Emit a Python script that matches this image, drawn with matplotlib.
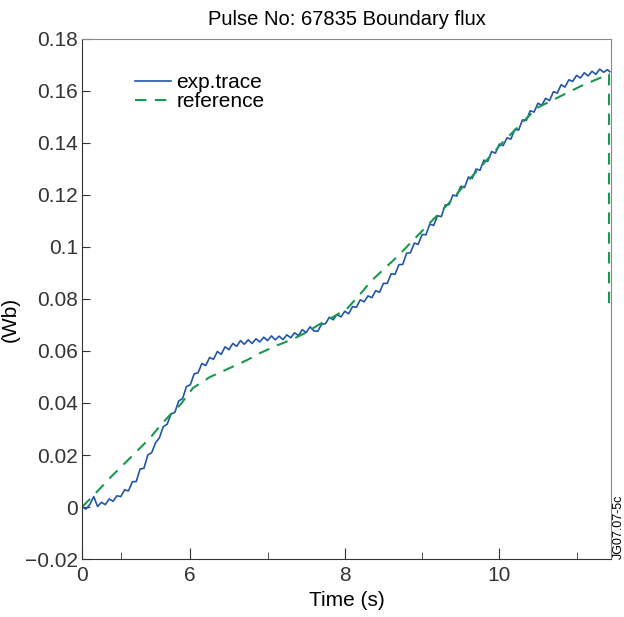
import matplotlib
matplotlib.use("Agg")
import matplotlib.pyplot as plt

plt.rcParams['font.family'] = ['Liberation Sans', 'DejaVu Sans']

exp_t = [4.60, 4.65, 4.70, 4.75, 4.80, 4.85, 4.90, 4.95, 5.00, 5.05,
         5.10, 5.15, 5.20, 5.25, 5.30, 5.35, 5.40, 5.45, 5.50, 5.55,
         5.60, 5.65, 5.70, 5.75, 5.80, 5.85, 5.90, 5.95, 6.00, 6.05,
         6.10, 6.15, 6.20, 6.25, 6.30, 6.35, 6.40, 6.45, 6.50, 6.55,
         6.60, 6.65, 6.70, 6.75, 6.80, 6.85, 6.90, 6.95, 7.00, 7.05,
         7.10, 7.15, 7.20, 7.25, 7.30, 7.35, 7.40, 7.45, 7.50, 7.55,
         7.60, 7.65, 7.70, 7.75, 7.80, 7.85, 7.90, 7.95, 8.00, 8.05,
         8.10, 8.15, 8.20, 8.25, 8.30, 8.35, 8.40, 8.45, 8.50, 8.55,
         8.60, 8.65, 8.70, 8.75, 8.80, 8.85, 8.90, 8.95, 9.00, 9.05,
         9.10, 9.15, 9.20, 9.25, 9.30, 9.35, 9.40, 9.45, 9.50, 9.55,
         9.60, 9.65, 9.70, 9.75, 9.80, 9.85, 9.90, 9.95, 10.00, 10.05,
         10.10, 10.15, 10.20, 10.25, 10.30, 10.35, 10.40, 10.45, 10.50, 10.55,
         10.60, 10.65, 10.70, 10.75, 10.80, 10.85, 10.90, 10.95, 11.00, 11.05,
         11.10, 11.15, 11.20, 11.25, 11.30, 11.35, 11.40, 11.43]
exp_flux = [0.0000, -0.0008, 0.0010, 0.0040, 0.0002, 0.0018, 0.0009, 0.0031, 0.0022, 0.0043,
            0.0040, 0.0066, 0.0062, 0.0097, 0.0098, 0.0146, 0.0149, 0.0200, 0.0209, 0.0247,
            0.0266, 0.0309, 0.0318, 0.0357, 0.0364, 0.0408, 0.0417, 0.0463, 0.0470, 0.0512,
            0.0516, 0.0552, 0.0544, 0.0575, 0.0568, 0.0598, 0.0587, 0.0616, 0.0605, 0.0629,
            0.0618, 0.0640, 0.0626, 0.0643, 0.0629, 0.0647, 0.0635, 0.0653, 0.0640, 0.0658,
            0.0643, 0.0657, 0.0644, 0.0662, 0.0651, 0.0670, 0.0659, 0.0682, 0.0671, 0.0693,
            0.0677, 0.0676, 0.0703, 0.0705, 0.0730, 0.0720, 0.0741, 0.0731, 0.0753, 0.0743,
            0.0771, 0.0768, 0.0797, 0.0789, 0.0812, 0.0805, 0.0832, 0.0826, 0.0860, 0.0860,
            0.0897, 0.0895, 0.0932, 0.0933, 0.0976, 0.0978, 0.1015, 0.1010, 0.1048, 0.1047,
            0.1088, 0.1083, 0.1120, 0.1117, 0.1162, 0.1163, 0.1200, 0.1196, 0.1233, 0.1229,
            0.1269, 0.1264, 0.1300, 0.1295, 0.1334, 0.1329, 0.1367, 0.1361, 0.1396, 0.1390,
            0.1420, 0.1415, 0.1452, 0.1450, 0.1489, 0.1487, 0.1524, 0.1519, 0.1553, 0.1545,
            0.1572, 0.1563, 0.1597, 0.1592, 0.1624, 0.1615, 0.1643, 0.1637, 0.1660, 0.1650,
            0.1670, 0.1658, 0.1676, 0.1664, 0.1684, 0.1672, 0.1682, 0.1674]

# reference waveform
ref_t = [4.598, 4.740, 4.960, 5.219, 5.478, 5.608, 5.737, 5.867, 6.035, 6.255,
         6.514, 6.734, 6.902, 7.135, 7.329, 7.485, 7.679, 7.873, 8.028, 8.235,
         8.326, 8.676, 9.012, 9.362, 9.582, 10.048, 10.488, 10.825, 11.084, 11.343,
         11.407, 11.42, 11.42]
ref_flux = [0.0000, 0.0042, 0.0112, 0.0188, 0.0265, 0.0312, 0.0354, 0.0392, 0.0458, 0.0500,
            0.0535, 0.0565, 0.0592, 0.0623, 0.0646, 0.0669, 0.0704, 0.0735, 0.0762, 0.0831,
            0.0865, 0.0962, 0.1065, 0.1173, 0.1250, 0.1404, 0.1535, 0.1585, 0.1623, 0.1655,
            0.1665, 0.1665, 0.0769]

x_major = [4.598, 6, 8, 10]
x_major_labels = ['0', '6', '8', '10']
x_minor = [5.1, 7, 9, 11]
y_ticks = [-0.02, 0, 0.02, 0.04, 0.06, 0.08, 0.1, 0.12, 0.14, 0.16, 0.18]
y_labels = ['\u22120.02', '0', '0.02', '0.04', '0.06', '0.08', '0.1', '0.12', '0.14', '0.16', '0.18']

fig = plt.figure(figsize=(6.24, 6.17), dpi=100)
ax = fig.add_axes([0.1314, 0.094, 0.8478, 0.8428])

ax.plot(exp_t, exp_flux, color='#2155a8', lw=1.2, label='exp.trace')
ax.plot(ref_t, ref_flux, color='#1a9850', lw=1.5, ls=(0, (5.5, 4)), label='reference')

ax.set_xlim(4.598, 11.446)
ax.set_ylim(-0.02, 0.18)
ax.set_xticks(x_major)
ax.set_xticklabels(x_major_labels)
ax.set_xticks(x_minor, minor=True)
ax.set_yticks(y_ticks)
ax.set_yticklabels(y_labels)

ax.tick_params(axis='both', which='both', direction='in', labelsize=15, colors='#333333')
ax.tick_params(axis='x', which='major', length=8, pad=5)
ax.tick_params(axis='x', which='minor', length=5)
ax.tick_params(axis='y', which='major', length=6, pad=3)

for s in ['left', 'bottom']:
    ax.spines[s].set_color('#333333')
for s in ['top', 'right']:
    ax.spines[s].set_color('#888888')

ax.set_title('Pulse No: 67835 Boundary flux', fontsize=14.5, pad=10)
ax.set_xlabel('Time (s)', fontsize=15, labelpad=4)
ax.set_ylabel('(Wb)', fontsize=15)
ax.yaxis.set_label_coords(-0.118, 0.46)

ax.legend(loc='upper left', bbox_to_anchor=(0.1, 0.935), frameon=False, fontsize=15,
          handlelength=1.75, handletextpad=0.25, labelspacing=0.0, borderpad=0,
          borderaxespad=0)

fig.text(0.991, 0.094, 'JG07.07-5c', rotation=90, fontsize=9, ha='center', va='bottom')

fig.savefig('out.png', dpi=100)
